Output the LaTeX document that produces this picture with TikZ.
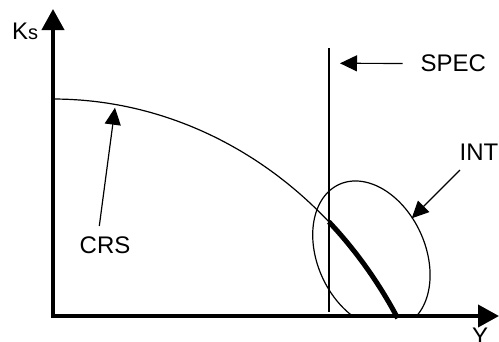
\documentclass[tikz,border=0pt]{standalone}
\usepackage{fontspec}
\setmainfont{Liberation Sans}
\usetikzlibrary{arrows.meta}
\begin{document}
\begin{tikzpicture}[x=1pt,y=-1pt,
  axisline/.style={line width=4pt,-{Triangle[length=21pt,width=22pt]}},
  thinline/.style={line width=1.2pt},
  thickline/.style={line width=5pt},
  pointer/.style={line width=1.2pt,-{Triangle[length=17pt,width=16pt]}},
  lbl/.style={font=\fontsize{24}{24}\selectfont,inner sep=0pt,anchor=base west}]
\useasboundingbox (0,0) rectangle (499,341);
% axes
\coordinate (ybot) at (53,318);
\coordinate (ytop) at (53,9);
\coordinate (xbeg) at (51,316);
\coordinate (xend) at (499,316);
\draw[axisline] (ybot) -- (ytop);
\draw[axisline] (xbeg) -- (xend);
% CRS curve
\draw[thinline] plot[domain=90:30.7,samples=90] ({53+400*cos(\x)},{544-445*sin(\x)});
\draw[thickline] plot[domain=46.4:30.5,samples=40] ({53+400*cos(\x)},{544-445*sin(\x)});
% SPEC line
\coordinate (spectop) at (329,48);
\coordinate (specbot) at (329,312);
\draw[thinline] (spectop) -- (specbot);
% ellipse
\begin{scope}
\clip (0,0) rectangle (499,316);
\draw[thinline] plot[domain=0:360,samples=140]
  ({371.4+77.6*cos(\x)*cos(65.4)-53.9*sin(\x)*sin(65.4)},
   {255+77.6*cos(\x)*sin(65.4)+53.9*sin(\x)*cos(65.4)}) -- cycle;
\end{scope}
% labels
\node[lbl] (ks) at (12,39.3) {K{\fontsize{20}{20}\selectfont s}};
\node[lbl] (spec) at (420.5,71.7) {SPEC};
\node[lbl] (int) at (459.5,160.7) {INT};
\node[lbl] (crs) at (79.5,253.3) {CRS};
\node[lbl] (ylab) at (472,344.2) {Y};
% pointers
\coordinate (spectip) at (340,63.3);
\coordinate (inttail) at (460,170);
\coordinate (inttip) at (411.7,218.3);
\coordinate (crstail) at (99.3,226);
\coordinate (crstip) at (115,107.7);
\draw[pointer] ([xshift=-18pt]spec.west) -- (spectip);
\draw[pointer] (inttail) -- (inttip);
\draw[pointer] (crstail) -- (crstip);
\end{tikzpicture}
\end{document}
